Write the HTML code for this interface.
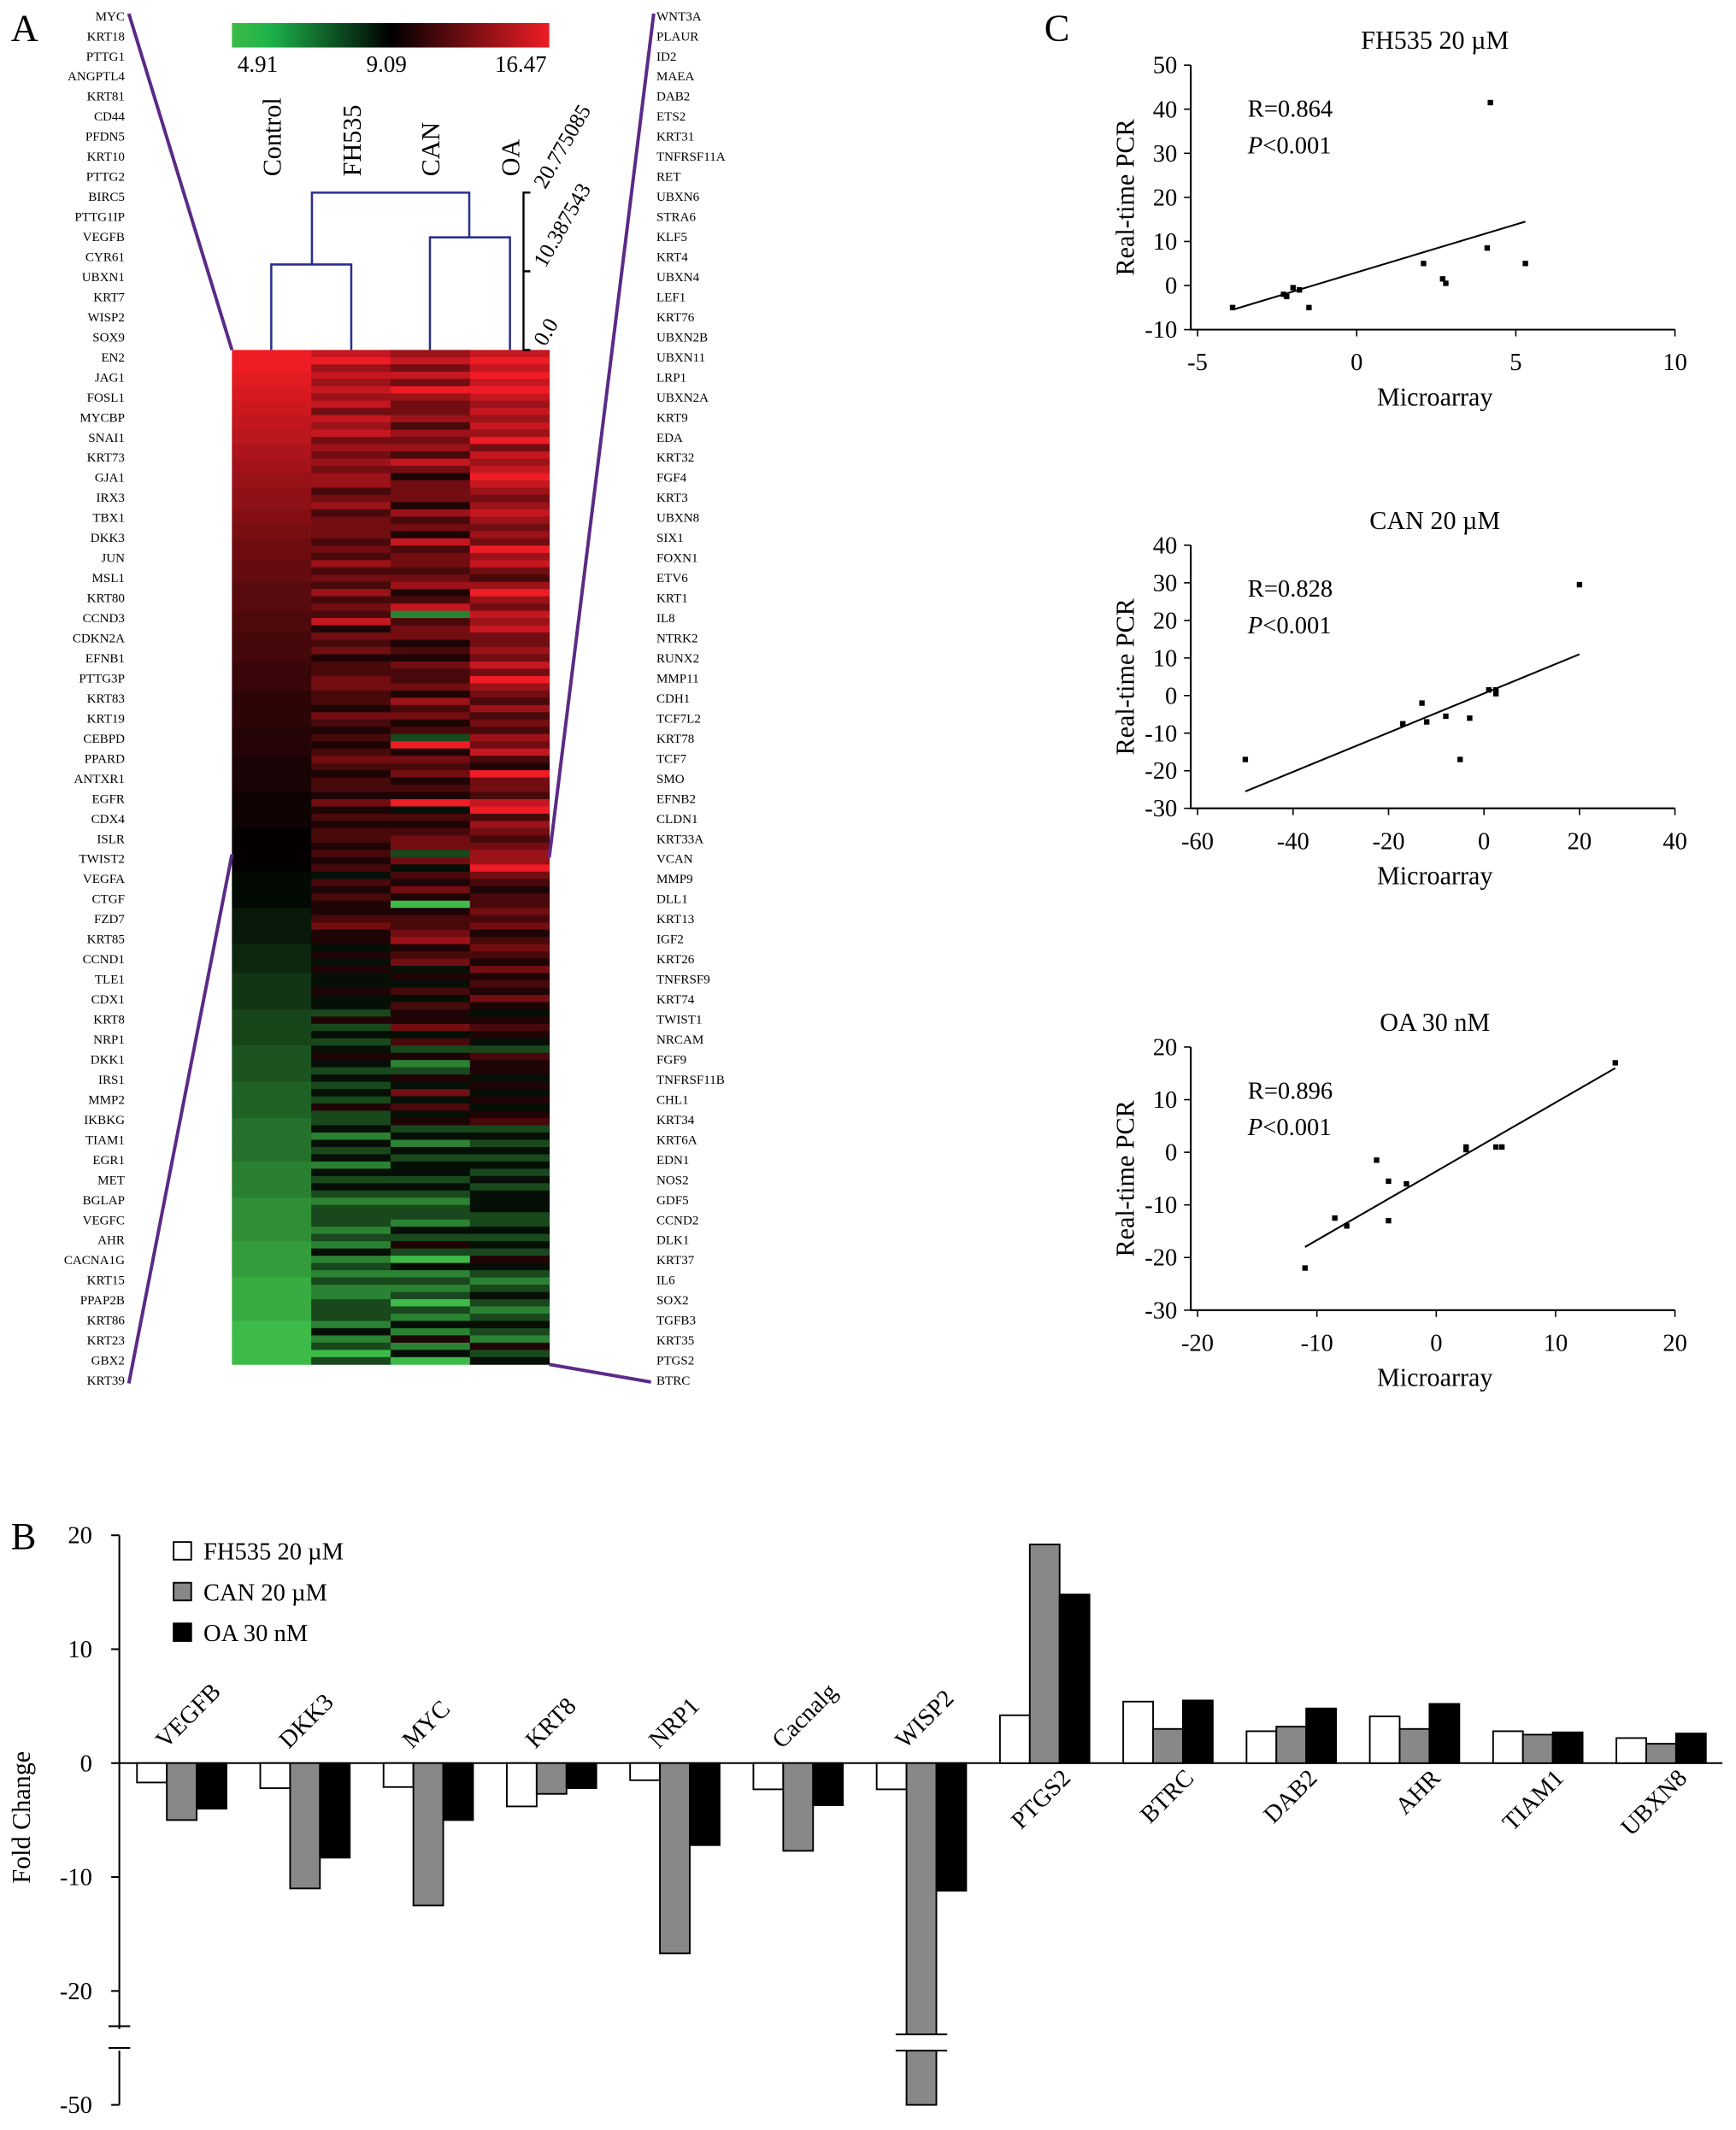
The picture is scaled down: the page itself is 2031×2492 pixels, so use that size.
<!DOCTYPE html>
<html><head><meta charset="utf-8"><style>
html,body{margin:0;padding:0;background:#fff}
svg{display:block;font-family:"Liberation Serif",serif}
</style></head><body>
<svg id="fig" width="2031" height="2492" viewBox="0 0 1280 1570.5" xmlns="http://www.w3.org/2000/svg">
<defs><linearGradient id="cb" x1="0" x2="1"><stop offset="0" stop-color="#3dbb48"/><stop offset="0.12" stop-color="#1db34a"/><stop offset="0.5" stop-color="#000"/><stop offset="1" stop-color="#ee1c25"/></linearGradient></defs>
<g id="panelA"></g>
<g id="panelB"></g>
<g id="panelC"></g>
</svg>
<script>
// ---------- Heatmap data ----------
const leftGenes=["MYC","KRT18","PTTG1","ANGPTL4","KRT81","CD44","PFDN5","KRT10","PTTG2","BIRC5","PTTG1IP","VEGFB","CYR61","UBXN1","KRT7","WISP2","SOX9","EN2","JAG1","FOSL1","MYCBP","SNAI1","KRT73","GJA1","IRX3","TBX1","DKK3","JUN","MSL1","KRT80","CCND3","CDKN2A","EFNB1","PTTG3P","KRT83","KRT19","CEBPD","PPARD","ANTXR1","EGFR","CDX4","ISLR","TWIST2","VEGFA","CTGF","FZD7","KRT85","CCND1","TLE1","CDX1","KRT8","NRP1","DKK1","IRS1","MMP2","IKBKG","TIAM1","EGR1","MET","BGLAP","VEGFC","AHR","CACNA1G","KRT15","PPAP2B","KRT86","KRT23","GBX2","KRT39"];
const rightGenes=["WNT3A","PLAUR","ID2","MAEA","DAB2","ETS2","KRT31","TNFRSF11A","RET","UBXN6","STRA6","KLF5","KRT4","UBXN4","LEF1","KRT76","UBXN2B","UBXN11","LRP1","UBXN2A","KRT9","EDA","KRT32","FGF4","KRT3","UBXN8","SIX1","FOXN1","ETV6","KRT1","IL8","NTRK2","RUNX2","MMP11","CDH1","TCF7L2","KRT78","TCF7","SMO","EFNB2","CLDN1","KRT33A","VCAN","MMP9","DLL1","KRT13","IGF2","KRT26","TNFRSF9","KRT74","TWIST1","NRCAM","FGF9","TNFRSF11B","CHL1","KRT34","KRT6A","EDN1","NOS2","GDF5","CCND2","DLK1","KRT37","IL6","SOX2","TGFB3","KRT35","PTGS2","BTRC"];
const heatCols=["Control","FH535","CAN","OA"];
// Control column in base-36 levels (0..z)
const heatControl="zzzyyxxwwvvuuttssrrqqqppoonnnmmmllllkkkjjjjiiiihhhhhggggfffffeeeeeddddddcccccbbbbbaaaa9999988888777776666655555544444333333222221111110000000";
const heatFH535="89787878687867676775675666565756575658465645566554654545654554645455454535454456443434334332423234323232422313231323212221213121211222131202";
const heatCAN="78686976675767586466647564856656745815664546556475645294656454935456626354640455674563435354463524124363534231323323212213242031212021314130";
const heatOA="89898987878796878987678767697865797687866768697657565768549665895765677965455656456546454643454325443434345232323232333223232432123212321423";
const colorMin=4.91, colorMid=9.09, colorMax=16.47;

// ---------- Bar chart data ----------
const barGenes=["VEGFB","DKK3","MYC","KRT8","NRP1","Cacnalg","WISP2","PTGS2","BTRC","DAB2","AHR","TIAM1","UBXN8"];
const fhValues=[-1.7,-2.2,-2.1,-3.8,-1.5,-2.3,-2.3,4.2,5.4,2.8,4.1,2.8,2.2];
const canValues=[-5,-11,-12.5,-2.7,-16.7,-7.7,-50,19.2,3.0,3.2,3.0,2.5,1.7];
const oaValues=[-4,-8.3,-5,-2.2,-7.2,-3.7,-11.2,14.8,5.5,4.8,5.2,2.7,2.6];
const barTicks=[20,10,0,-10,-20,-50];
const seriesNames=["FH535 20 \u00b5M","CAN 20 \u00b5M","OA 30 nM"];

// ---------- Scatter data ----------
const fhX=[-3.9,-2.3,-2.2,-2,-1.8,-1.5,2.1,2.7,2.8,4.1,4.2,5.3];
const fhY=[-5,-2,-2.5,-0.5,-1,-5,5,1.5,0.5,8.5,41.5,5];
const canX=[-50,-17,-13,-12,-8,-5,-3,1,2.5,2.5,20];
const canY=[-17,-7.5,-2,-7,-5.5,-17,-6,1.5,1.5,0.5,29.5];
const oaX=[-11,-8.5,-7.5,-5,-4,-4,-2.5,2.5,2.5,5,5.5,15];
const oaY=[-22,-12.5,-14,-1.5,-5.5,-13,-6,1,0.5,1,1,17];
const fhXTicks=[-5,0,5,10], fhYTicks=[50,40,30,20,10,0,-10];
const canXTicks=[-60,-40,-20,0,20,40], canYTicks=[40,30,20,10,0,-10,-20,-30];
const oaXTicks=[-20,-10,0,10,20], oaYTicks=[20,10,0,-10,-20,-30];

const NS="http://www.w3.org/2000/svg";
function mk(parent,tag,attrs,text){const e=document.createElementNS(NS,tag);for(const k in attrs)e.setAttribute(k,attrs[k]);if(text!==undefined)e.textContent=text;parent.appendChild(e);return e;}
function lerp(a,b,t){return Math.round(a+(b-a)*t);}
function heatColor(v){
  if(v<=colorMid){const t=Math.max(0,(v-colorMin)/(colorMid-colorMin));return `rgb(${lerp(61,0,t)},${lerp(187,0,t)},${lerp(72,0,t)})`;}
  const t=Math.min(1,(v-colorMid)/(colorMax-colorMid));return `rgb(${lerp(0,238,t)},${lerp(0,28,t)},${lerp(0,37,t)})`;
}
function level(d,base){return colorMin+parseInt(d,base)/(base-1)*(colorMax-colorMin);}

// ---------- Panel A ----------
const A=document.getElementById('panelA');
let t=mk(A,'text',{x:8,y:30,'font-size':28});t.textContent='A';


const hx0=171,hx1=405,hy0=258,hy1=1006;
const cw=(hx1-hx0)/4;
const cols=[heatControl,heatFH535,heatCAN,heatOA];
const bases=[36,10,10,10];
const nRows=140, rh=(hy1-hy0)/nRows;
cols.forEach((s,ci)=>{
  for(let r=0;r<nRows;r++){
    const c=mk(A,'rect',{x:hx0+ci*cw,y:hy0+r*rh,width:cw+0.3,height:rh+0.3,fill:heatColor(level(s[r]||'4',bases[ci]))});
    
    
  }
});
let cbr=mk(A,'rect',{x:171,y:17,width:234,height:18,fill:'url(#cb)'});


[[colorMin,190],[colorMid,285],[colorMax,384]].forEach(([v,x])=>{const e=mk(A,'text',{x:x,y:53,'font-size':17,'text-anchor':'middle'},v.toFixed(2));

});
const colX=[200,259,317,376];
heatCols.forEach((n,i)=>{const e=mk(A,'text',{x:0,y:0,'font-size':19,transform:`translate(${colX[i]+7},130) rotate(-90)`},n);

});
const dg=mk(A,'path',{d:'M200,258V195H259V258 M317,258V175H376V258 M230,195V142H346V175',fill:'none',stroke:'#2b2f8f','stroke-width':1.6});


const sc=mk(A,'path',{d:'M391,142H386V258H391 M386,200H391',fill:'none',stroke:'#000','stroke-width':1.5});


[["20.775085",140],["10.387543",198],["0.0",256]].forEach(([s,y])=>{const e=mk(A,'text',{x:0,y:0,'font-size':16,transform:`translate(402,${y}) rotate(-60)`},s);

});
const ly0=12, lstep=(1018-12)/68;
leftGenes.forEach((g,i)=>{const e=mk(A,'text',{x:92,y:ly0+i*lstep+3,'font-size':9.5,'text-anchor':'end'},g);

});
rightGenes.forEach((g,i)=>{const e=mk(A,'text',{x:484,y:ly0+i*lstep+3,'font-size':9.5},g);

});
const zl=mk(A,'path',{d:'M95,10L171,258 M95,1020L171,630 M482,10L405,632 M405,1006L480,1019',stroke:'#5b2a86','stroke-width':2.5,fill:'none'});



// ---------- Panel B ----------
const B=document.getElementById('panelB');
t=mk(B,'text',{x:8,y:1142,'font-size':28},'B');


const y0=1300, ppu=8.4;
function by(v){ if(v>=-24) return y0-v*ppu; return 1502+(-24-v)/26*50; }
const ax=mk(B,'path',{d:`M88,1132V1496 M88,1512V1552 M88,1300H1270`,stroke:'#000','stroke-width':1.3,fill:'none'});


const br=mk(B,'path',{d:'M80,1494L96,1494 M80,1510L96,1510',stroke:'#000','stroke-width':1.3});


barTicks.forEach(v=>{const y=by(v);mk(B,'line',{x1:82,x2:88,y1:y,y2:y,stroke:'#000','stroke-width':1.3});
const e=mk(B,'text',{x:68,y:y+6,'font-size':18,'text-anchor':'end'},v);

});
t=mk(B,'text',{x:0,y:0,'font-size':19,'text-anchor':'middle',transform:'translate(22,1340) rotate(-90)'},'Fold Change');


const fills=['#fff','#888','#000'];
const series=[fhValues,canValues,oaValues];
const gx0=101, gstep=90.9, bw=22;
barGenes.forEach((g,i)=>{
  series.forEach((vals,s)=>{
    const v=vals[i], x=gx0+i*gstep+s*bw;
    const ya=by(v), yb=y0;
    const r=mk(B,'rect',{x:x,y:Math.min(ya,yb),width:bw,height:Math.abs(ya-yb),fill:fills[s],stroke:'#000','stroke-width':1.2});
    
    
    if(v<-24){mk(B,'rect',{x:x-4,y:1500,width:bw+8,height:12,fill:'#fff'});
      mk(B,'path',{d:`M${x-8},1500H${x+bw+8} M${x-8},1512H${x+bw+8}`,stroke:'#000','stroke-width':1.3});}
  });
  const cx=gx0+i*gstep+33;
  const neg=fhValues[i]<0;
  const e= neg? mk(B,'text',{x:0,y:0,'font-size':18,transform:`translate(${cx-12},1290) rotate(-45)`},g)
              : mk(B,'text',{x:0,y:0,'font-size':18,'text-anchor':'end',transform:`translate(${cx+20},1312) rotate(-45)`},g);
  
  
});
seriesNames.forEach((n,s)=>{const y=1137+s*30;
const r=mk(B,'rect',{x:128,y:y,width:13,height:13,fill:fills[s],stroke:'#000','stroke-width':1.2});


const e=mk(B,'text',{x:150,y:y+13,'font-size':18},n);

});

// ---------- Panel C ----------
const C=document.getElementById('panelC');
t=mk(C,'text',{x:770,y:30,'font-size':28},'C');


function scatter(cfg){
  const {xs,ys,xt,yt,top,bot,title,R,line}=cfg;
  const left=878,right=1235;
  const xmin=xt[0],xmax=xt[xt.length-1],ymax=yt[0],ymin=yt[yt.length-1];
  const fx=v=>883+(v-xmin)/(xmax-xmin)*(right-883);
  const fy=v=>top+(ymax-v)/(ymax-ymin)*(bot-top);
  const g=mk(C,'g',{});
  
  
  mk(g,'path',{d:`M${left},${top}V${bot}H${right}`,stroke:'#000','stroke-width':1.3,fill:'none'});
  yt.forEach(v=>{const y=fy(v);mk(g,'line',{x1:left-5,x2:left,y1:y,y2:y,stroke:'#000'});
    const e=mk(g,'text',{x:left-10,y:y+6,'font-size':18,'text-anchor':'end'},v);
    
    });
  xt.forEach(v=>{const x=fx(v);mk(g,'line',{x1:x,x2:x,y1:bot,y2:bot+5,stroke:'#000'});
    const e=mk(g,'text',{x:x,y:bot+30,'font-size':18,'text-anchor':'middle'},v);
    
    });
  let e=mk(g,'text',{x:1058,y:top-12,'font-size':19,'text-anchor':'middle'},title);
  
  
  e=mk(g,'text',{x:1058,y:bot+56,'font-size':19,'text-anchor':'middle'},'Microarray');
  
  
  e=mk(g,'text',{x:0,y:0,'font-size':19,'text-anchor':'middle',transform:`translate(836,${(top+bot)/2}) rotate(-90)`},'Real-time PCR');
  
  
  e=mk(g,'text',{x:920,y:top+38,'font-size':18},'R='+R);
  
  
  e=mk(g,'text',{x:920,y:top+65,'font-size':18});
  mk(e,'tspan',{'font-style':'italic'},'P');mk(e,'tspan',{},'<0.001');
  
  
  const l=mk(g,'line',{x1:fx(line[0]),y1:fy(line[1]),x2:fx(line[2]),y2:fy(line[3]),stroke:'#000','stroke-width':1.3});
  
  
  xs.forEach((x,i)=>{const p=mk(g,'rect',{x:fx(x)-2,y:fy(ys[i])-2,width:4,height:4,fill:'#000'});
    
    });
}
scatter({xs:fhX,ys:fhY,xt:fhXTicks,yt:fhYTicks,top:48,bot:243,title:'FH535 20 \u00b5M',R:'0.864',line:[-3.9,-5.5,5.3,14.5]});
scatter({xs:canX,ys:canY,xt:canXTicks,yt:canYTicks,top:402,bot:596,title:'CAN 20 \u00b5M',R:'0.828',line:[-50,-25.5,20,11]});
scatter({xs:oaX,ys:oaY,xt:oaXTicks,yt:oaYTicks,top:772,bot:966,title:'OA 30 nM',R:'0.896',line:[-11,-18,15,16]});
</script>
</body></html>
